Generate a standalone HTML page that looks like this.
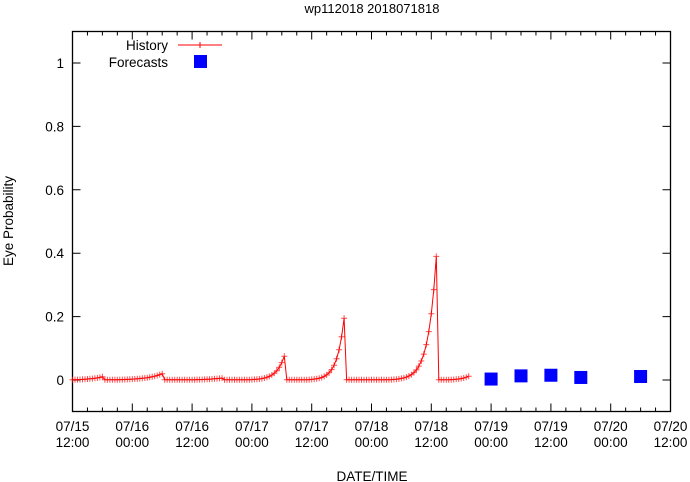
<!DOCTYPE html>
<html><head><meta charset="utf-8"><style>
body{margin:0;background:#fff;}
svg{display:block;font-family:"Liberation Sans",sans-serif;}
</style></head><body>
<svg id="s" width="690" height="482" viewBox="0 0 690 482" xmlns="http://www.w3.org/2000/svg">
<rect width="690" height="482" fill="#fff"/>
<text x="372" y="13" font-size="13" text-anchor="middle">wp112018 2018071818</text>
<g id="ax" stroke="#000" stroke-width="1" fill="none"></g>
<g id="lab" font-size="13.5" fill="#000"></g>
<text x="372" y="481" font-size="13.5" text-anchor="middle">DATE/TIME</text>
<text transform="translate(13,221) rotate(-90)" font-size="13.5" text-anchor="middle">Eye Probability</text>
<g id="data"></g>
<text x="168" y="50" font-size="13.5" text-anchor="end">History</text>
<line x1="178" y1="45" x2="222" y2="45" stroke="#f00" stroke-width="1"/>
<path d="M197 45h6M200 42v6" stroke="#f00"/>
<text x="168" y="67" font-size="13.5" text-anchor="end">Forecasts</text>
<rect x="194" y="55" width="13" height="13" fill="#00f"/>
</svg>
<script>
var NS="http://www.w3.org/2000/svg";
function el(p,t,a,txt){var e=document.createElementNS(NS,t);for(var k in a)e.setAttribute(k,a[k]);if(txt!=null)e.textContent=txt;document.getElementById(p).appendChild(e);return e;}
var L=72.5,R=670.5,T=31.5,B=411.5;
function X(h){return 72.5+h*598/120;}
function Y(v){return 380-v*317;}
el("ax","rect",{x:L,y:T,width:R-L,height:B-T,"stroke-width":1.3});
var d="";
for(var h=0;h<=120;h+=3){var x=X(h),len=(h%12==0)?8:4;d+="M"+x+" "+B+"v-"+len+"M"+x+" "+T+"v"+len;}
for(var i=0;i<=5;i++){var v=i*0.2,y=Y(v);d+="M"+L+" "+y+"h8M"+R+" "+y+"h-8";
 el("lab","text",{x:64,y:y+5,"text-anchor":"end"},i==0?"0":(i==5?"1":v.toFixed(1)));}
el("ax","path",{d:d});
var days=["07/15","07/16","07/16","07/17","07/17","07/18","07/18","07/19","07/19","07/20","07/20"];
for(var i=0;i<11;i++){var x=X(i*12);el("lab","text",{x:x,y:431,"text-anchor":"middle"},days[i]);el("lab","text",{x:x,y:447,"text-anchor":"middle"},i%2==0?"12:00":"00:00");}
var peaks=[[0,6,0.01,2.5],[6,18,0.02,3],[18,30,0.006,3],[30,42.5,0.075,1.6],[42.5,54.5,0.195,1.4],[54.5,73,0.39,1.6],[73,79.5,0.012,1.5]];
var pts=[];
for(var t=0;t<=79.5;t+=0.5){var v=0.001;
 for(var j=0;j<peaks.length;j++){var p=peaks[j];if(t>p[0]&&t<=p[1]+0.01){v=Math.max(v,p[2]*Math.exp((t-p[1])/p[3]));}}
 pts.push([X(t),Y(v)]);}
var pd="M"+pts.map(function(p){return p[0].toFixed(1)+" "+p[1].toFixed(1)}).join("L");
el("data","path",{d:pd,stroke:"#f00",fill:"none","stroke-width":1});
var md="";pts.forEach(function(p){md+="M"+(p[0]-3).toFixed(1)+" "+p[1].toFixed(1)+"h6M"+p[0].toFixed(1)+" "+(p[1]-3).toFixed(1)+"v6";});
el("data","path",{d:md,stroke:"#f00","stroke-opacity":0.7,fill:"none","stroke-width":1});
[[84,0.003],[90,0.013],[96,0.015],[102,0.008],[114,0.011]].forEach(function(f){el("data","rect",{x:X(f[0])-6.5,y:Y(f[1])-6.5,width:13,height:13,fill:"#00f"});});
</script>
</body></html>
